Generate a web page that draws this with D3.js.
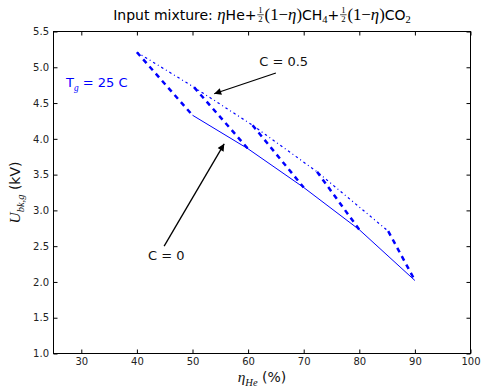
<!DOCTYPE html>
<html>
<head>
<meta charset="utf-8">
<script src="https://cdn.jsdelivr.net/npm/d3@7"></script>
<style>
  html, body { margin: 0; padding: 0; background: #fff; }
  svg { display: block; }
  text.rich { white-space: pre; }
</style>
</head>
<body>
<svg id="chart" width="482" height="387"></svg>
<script>
// ---- data ----
const xTicks = [30, 40, 50, 60, 70, 80, 90, 100];
const yTicks = [1.0, 1.5, 2.0, 2.5, 3.0, 3.5, 4.0, 4.5, 5.0, 5.5];

// C = 0 (solid)
const etaC0 = [50, 60, 70, 80, 90];
const uC0 = [4.33, 3.86, 3.32, 2.73, 2.02];

// C = 0.5 (dash-dot)
const etaC05 = [40, 50.3, 60.8, 72.4, 85.2];
const uC05 = [5.21, 4.72, 4.19, 3.54, 2.71];

// thick dashed links: each C = 0.5 point joined to the matching C = 0 point
const linkEtaStart = [40, 50.3, 60.8, 72.4, 85.2];
const linkUStart = [5.21, 4.72, 4.19, 3.54, 2.71];
const linkEtaEnd = [50, 60, 70, 80, 90];
const linkUEnd = [4.33, 3.86, 3.32, 2.73, 2.02];

const SANS = '"DejaVu Sans", sans-serif';
const SERIF = '"Liberation Serif", "DejaVu Serif", serif';
const BLUE = '#0000ff';

const margin = { top: 31.5, right: 11.5, bottom: 33.5, left: 53.5 };
const width = 482, height = 387;

const svg = d3.select('#chart');

const x = d3.scaleLinear().domain([25, 100]).range([margin.left, width - margin.right]);
const y = d3.scaleLinear().domain([1.0, 5.5]).range([height - margin.bottom, margin.top]);

// lays out a row of text pieces (sans / serif italic / subscripts / stacked fractions)
function richText(parent, pieces, size, color) {
    const g = parent.append('g').attr('fill', color || '#000');
    let cx = 0;
    pieces.forEach(p => {
        if (p.frac) {
            const fs = size * 0.62;
            const w = fs * 0.75;
            g.append('text')
                .attr('x', cx + w / 2 + 0.8).attr('y', -size * 0.5)
                .attr('text-anchor', 'middle')
                .style('font-family', SERIF).style('font-size', fs + 'px')
                .text(p.frac[0]);
            g.append('text')
                .attr('x', cx + w / 2 + 0.8).attr('y', size * 0.2)
                .attr('text-anchor', 'middle')
                .style('font-family', SERIF).style('font-size', fs + 'px')
                .text(p.frac[1]);
            g.append('line')
                .attr('x1', cx + 0.8).attr('x2', cx + w + 0.8)
                .attr('y1', -size * 0.34).attr('y2', -size * 0.34)
                .attr('stroke', color || '#000').attr('stroke-width', 0.7);
            cx += w + 1.6;
            return;
        }
        const t = g.append('text')
            .attr('class', 'rich')
            .attr('x', cx)
            .attr('y', p.dy || 0)
            .style('font-family', p.serif ? SERIF : SANS)
            .style('font-style', p.it ? 'italic' : 'normal')
            .style('font-size', (p.s || 1) * size + 'px')
            .text(p.t);
        cx += t.node().getComputedTextLength();
    });
    return { g: g, width: cx };
}

// ---- axes (ticks pointing inward on all four sides) ----
const fmtY = d3.format('.1f');

svg.append('g')
    .attr('transform', `translate(0, ${height - margin.bottom})`)
    .call(d3.axisBottom(x).tickValues(xTicks).tickSizeInner(-4).tickSizeOuter(0).tickPadding(4.5))
    .call(g => g.select('.domain').remove())
    .call(g => g.selectAll('text').style('font-family', SANS).style('font-size', '10px').attr('fill', '#222'));

svg.append('g')
    .attr('transform', `translate(0, ${margin.top})`)
    .call(d3.axisTop(x).tickValues(xTicks).tickSizeInner(-4).tickSizeOuter(0).tickFormat(''))
    .call(g => g.select('.domain').remove());

svg.append('g')
    .attr('transform', `translate(${margin.left}, 0)`)
    .call(d3.axisLeft(y).tickValues(yTicks).tickFormat(fmtY).tickSizeInner(-4).tickSizeOuter(0).tickPadding(4.5))
    .call(g => g.select('.domain').remove())
    .call(g => g.selectAll('text').style('font-family', SANS).style('font-size', '10px').attr('fill', '#222'));

svg.append('g')
    .attr('transform', `translate(${width - margin.right}, 0)`)
    .call(d3.axisRight(y).tickValues(yTicks).tickSizeInner(-4).tickSizeOuter(0).tickFormat(''))
    .call(g => g.select('.domain').remove());

svg.selectAll('.tick line').attr('stroke', '#000');

// ---- lines ----
const line = d3.line()
    .x(d => x(d[0]))
    .y(d => y(d[1]));

svg.append('path')
    .datum(etaC0.map((e, i) => [e, uC0[i]]))
    .attr('fill', 'none')
    .attr('stroke', BLUE)
    .attr('stroke-width', 1)
    .attr('d', line);

svg.append('path')
    .datum(etaC05.map((e, i) => [e, uC05[i]]))
    .attr('fill', 'none')
    .attr('stroke', BLUE)
    .attr('stroke-width', 1.2)
    .attr('stroke-dasharray', '2.5,3,1,3')
    .attr('d', line);

linkEtaStart.forEach((e, i) => {
    svg.append('path')
        .datum([[e, linkUStart[i]], [linkEtaEnd[i], linkUEnd[i]]])
        .attr('fill', 'none')
        .attr('stroke', BLUE)
        .attr('stroke-width', 2.5)
        .attr('stroke-dasharray', '5,4.5')
        .attr('d', line);
});

// frame
svg.append('rect')
    .attr('x', margin.left).attr('y', margin.top)
    .attr('width', width - margin.left - margin.right)
    .attr('height', height - margin.top - margin.bottom)
    .attr('fill', 'none').attr('stroke', '#000').attr('stroke-width', 1);

// ---- annotations ----
svg.append('defs').append('marker')
    .attr('id', 'head')
    .attr('viewBox', '0 0 10 10')
    .attr('refX', 10).attr('refY', 5)
    .attr('markerUnits', 'userSpaceOnUse')
    .attr('markerWidth', 9).attr('markerHeight', 7)
    .attr('orient', 'auto')
    .append('path').attr('d', 'M0,0 L10,5 L0,10 Z').attr('fill', '#000');

const annotations = [
    { label: 'C = 0.5', tx: 62.0, ty: 5.02, from: [65.0, 4.92], to: [53.9, 4.63] },
    { label: 'C = 0', tx: 42.0, ty: 2.30, from: [44.9, 2.50], to: [55.7, 3.93] }
];

annotations.forEach(a => {
    svg.append('line')
        .attr('x1', x(a.from[0])).attr('y1', y(a.from[1]))
        .attr('x2', x(a.to[0])).attr('y2', y(a.to[1]))
        .attr('stroke', '#000').attr('stroke-width', 1.3)
        .attr('marker-end', 'url(#head)');
    svg.append('text')
        .attr('x', x(a.tx)).attr('y', y(a.ty))
        .style('font-family', SANS).style('font-size', '13px')
        .attr('fill', '#111')
        .text(a.label);
});

// T_g label
const tg = richText(svg, [
    { t: 'T' },
    { t: 'g', serif: true, it: true, s: 0.72, dy: 3.5 },
    { t: ' = 25 C' }
], 13, BLUE);
tg.g.attr('transform', `translate(${x(27.25)}, ${y(4.72)})`);

// ---- title ----
const title = richText(svg, [
    { t: 'Input mixture: ' },
    { t: 'η', serif: true, it: true, s: 1.2 },
    { t: 'He+' },
    { frac: ['1', '2'] },
    { t: '(1−', serif: true, s: 1.2 },
    { t: 'η', serif: true, it: true, s: 1.2 },
    { t: ')', serif: true, s: 1.2 },
    { t: 'CH' },
    { t: '4', serif: true, s: 0.75, dy: 3.5 },
    { t: '+' },
    { frac: ['1', '2'] },
    { t: '(1−', serif: true, s: 1.2 },
    { t: 'η', serif: true, it: true, s: 1.2 },
    { t: ')', serif: true, s: 1.2 },
    { t: 'CO' },
    { t: '2', serif: true, s: 0.75, dy: 3.5 }
], 14);
title.g.attr('transform', `translate(${(margin.left + width - margin.right) / 2 - title.width / 2}, 19.5)`);

// ---- axis labels ----
const xl = richText(svg, [
    { t: 'η', serif: true, it: true, s: 1.1 },
    { t: 'He', serif: true, it: true, s: 0.75, dy: 4 },
    { t: ' (%)' }
], 14, '#111');
xl.g.attr('transform', `translate(${(margin.left + width - margin.right) / 2 - xl.width / 2}, 382)`);

const yl = richText(svg, [
    { t: 'U', serif: true, it: true, s: 1.1 },
    { t: 'bk,g', serif: true, it: true, s: 0.75, dy: 4 },
    { t: ' (kV)' }
], 14, '#111');
yl.g.attr('transform', `translate(20, ${(margin.top + height - margin.bottom) / 2 + yl.width / 2}) rotate(-90)`);
</script>
</body>
</html>
